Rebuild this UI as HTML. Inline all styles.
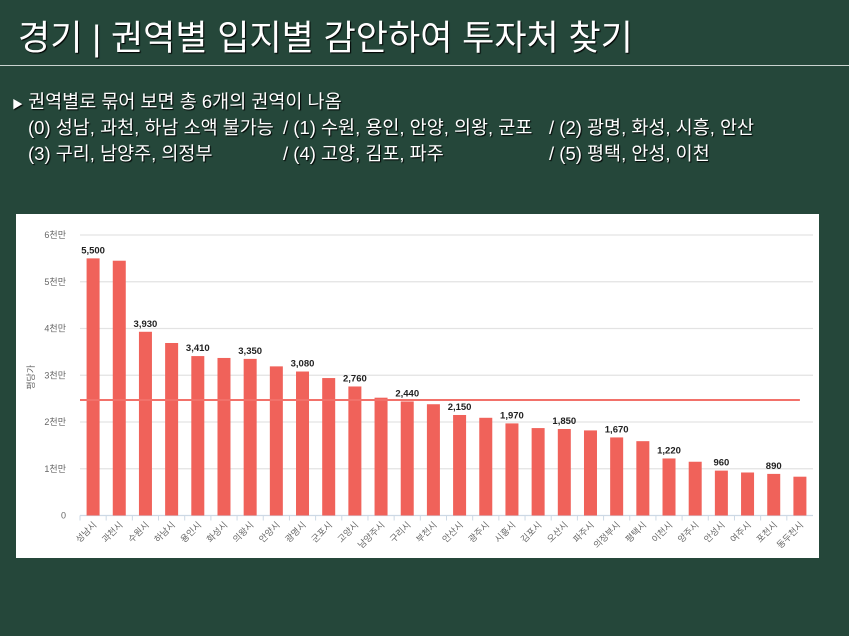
<!DOCTYPE html>
<html><head><meta charset="utf-8"><style>
body{margin:0;width:849px;height:636px;background:#25473a;overflow:hidden;font-family:"Liberation Sans","Noto Sans CJK KR",sans-serif;position:relative}
.title{position:absolute;left:18px;top:10px;color:#fff;font-size:35px;white-space:nowrap;text-shadow:1px 1px 1px #000}
.rule{position:absolute;left:0;top:65px;width:849px;height:1px;background:#c9d3cf}
.t{position:absolute;color:#fff;font-size:18.5px;white-space:pre;line-height:26px;text-shadow:1px 1px 1px #000}
#panel{position:absolute;left:16px;top:214px;width:803px;height:344px;background:#fff}
</style></head><body>
<div class="title">경기 | 권역별 입지별 감안하여 투자처 찾기</div>
<div class="rule"></div>
<div>
<div class="t" style="left:12px;top:89px"><span style="font-size:11px">▶</span> 권역별로 묶어 보면 총 6개의 권역이 나옴</div>
<div class="t" style="left:28px;top:115px">(0) 성남, 과천, 하남 소액 불가능</div>
<div class="t" style="left:283px;top:115px">/ (1) 수원, 용인, 안양, 의왕, 군포</div>
<div class="t" style="left:549px;top:115px">/ (2) 광명, 화성, 시흥, 안산</div>
<div class="t" style="left:28px;top:141px">(3) 구리, 남양주, 의정부</div>
<div class="t" style="left:283px;top:141px">/ (4) 고양, 김포, 파주</div>
<div class="t" style="left:549px;top:141px">/ (5) 평택, 안성, 이천</div>
</div>
<div id="panel">
<svg id="chart" width="803" height="344"></svg>
</div>
<script>
const categories=["성남시","과천시","수원시","하남시","용인시","화성시","의왕시","안양시","광명시","군포시","고양시","남양주시","구리시","부천시","안산시","광주시","시흥시","김포시","오산시","파주시","의정부시","평택시","이천시","양주시","안성시","여주시","포천시","동두천시"];
const values=[5500,5450,3930,3690,3410,3370,3350,3190,3080,2940,2760,2520,2440,2380,2150,2090,1970,1870,1850,1820,1670,1590,1220,1150,960,920,890,830];
const yTicks=[0,1000,2000,3000,4000,5000,6000];
const yTickLabels=["0","1천만","2천만","3천만","4천만","5천만","6천만"];
const average=[2470];
const NS="http://www.w3.org/2000/svg";
const svg=document.getElementById('chart');
const X0=64,X1=797,Y0=301.5,Y1=21;
const yS=v=>Y0-(v/6000)*(Y0-Y1);
const bw=(X1-X0)/categories.length;
const xS=i=>X0+bw*(i+0.5);
function mk(t,a){const e=document.createElementNS(NS,t);for(const k in a)e.setAttribute(k,a[k]);svg.appendChild(e);return e;}
yTicks.forEach((t,i)=>{
 const g=mk('line',{x1:X0,x2:X1,y1:yS(t),y2:yS(t),stroke:i==0?'#cdd9e5':'#e3e3e3','stroke-width':1.3});
 
 
 const l=mk('text',{x:50,y:yS(t)+3,'text-anchor':'end','font-size':9,fill:'#666'});
 l.textContent=yTickLabels[i];
 
 
});
const yt=mk('text',{x:0,y:0,'font-size':9,fill:'#666','text-anchor':'middle',transform:'translate(18,'+(yS(3000)+2)+') rotate(-90)'});
yt.textContent='평당가';


categories.forEach((c,i)=>{
 const x=xS(i);
 const tk=mk('line',{x1:X0+bw*i,x2:X0+bw*i,y1:Y0,y2:Y0+5,stroke:'#cdd9e5'});
 
 
 const b=mk('rect',{x:x-6.5,y:yS(values[i]),width:13,height:Y0-yS(values[i]),fill:'#f0625a'});
 
 
 if(i%2==0){
  const v=mk('text',{x:x,y:yS(values[i])-5,'text-anchor':'middle','font-size':9.5,'font-weight':'bold',fill:'#222'});
  v.textContent=values[i].toLocaleString('en-US');
  
  
 }
 const l=mk('text',{x:0,y:0,'text-anchor':'end','font-size':9,fill:'#666',transform:'translate('+(x+4)+','+(Y0+10)+') rotate(-45)'});
 l.textContent=c;
 
 
});
const av=mk('line',{x1:X0,x2:xS(categories.length-1),y1:yS(average[0]),y2:yS(average[0]),stroke:'#f2716a','stroke-width':2});


</script>
</body></html>
